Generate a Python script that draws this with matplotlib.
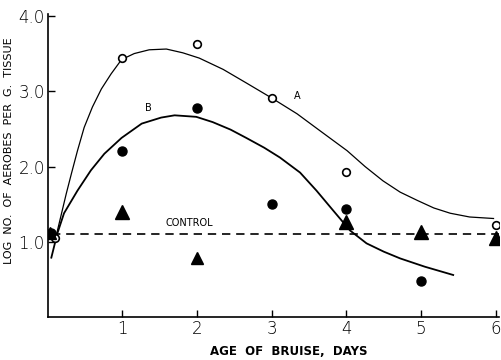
import matplotlib.pyplot as plt

# Curve A: open circles and hand-fitted curve
a_days = [0.1, 1, 2, 3, 4, 6]
a_log = [1.05, 3.44, 3.63, 2.91, 1.93, 1.22]
a_curve_x = [0.11, 0.18, 0.25, 0.32, 0.40, 0.49, 0.60, 0.72, 0.85, 0.99, 1.16,
             1.36, 1.59, 1.81, 2.03, 2.35, 2.66, 3.00, 3.34, 3.64, 4.01, 4.25,
             4.49, 4.72, 4.95, 5.17, 5.39, 5.65, 5.97]
a_curve_y = [1.06, 1.35, 1.64, 1.91, 2.21, 2.52, 2.79, 3.03, 3.23, 3.42, 3.50,
             3.55, 3.56, 3.51, 3.44, 3.29, 3.11, 2.91, 2.70, 2.48, 2.21, 2.00,
             1.81, 1.66, 1.55, 1.45, 1.38, 1.33, 1.31]

# Curve B: filled circles and hand-fitted curve
b_days = [0.05, 1, 2, 3, 4, 5]
b_log = [1.12, 2.21, 2.78, 1.50, 1.44, 0.48]
b_curve_x = [0.05, 0.13, 0.22, 0.40, 0.58, 0.76, 0.99, 1.26, 1.52, 1.70, 1.99,
             2.21, 2.45, 2.66, 2.90, 3.11, 3.38, 3.60, 3.82, 4.05, 4.27, 4.50,
             4.72, 5.05, 5.43]
b_curve_y = [0.79, 1.11, 1.38, 1.68, 1.95, 2.17, 2.38, 2.57, 2.65, 2.68, 2.66,
             2.59, 2.49, 2.38, 2.25, 2.12, 1.92, 1.68, 1.42, 1.15, 0.98, 0.87,
             0.78, 0.67, 0.56]

# Triangles (third series)
t_days = [0.03, 1, 2, 4, 5, 6]
t_log = [1.12, 1.40, 0.78, 1.27, 1.13, 1.05]
t_size = [8, 10, 8, 10, 10, 10]

control_level = 1.11

fig = plt.figure(figsize=(5.01, 3.6), dpi=100)
ax = fig.add_axes([0.095, 0.119, 0.902, 0.841])

ax.plot(a_curve_x, a_curve_y, color='black', lw=0.9)
ax.plot(b_curve_x, b_curve_y, color='black', lw=1.3)
ax.plot(a_days, a_log, 'o', mfc='white', mec='black', mew=1.2, ms=5.5)
ax.plot(b_days, b_log, 'o', color='black', ms=6.5)
for x, y, s in zip(t_days, t_log, t_size):
    ax.plot(x, y, '^', color='black', ms=s)

ax.axhline(control_level, xmin=0.01, xmax=1, color='black', lw=1.2, ls=(0, (5, 3.5)))
ax.text(1.9, 1.25, 'CONTROL', fontsize=7, ha='center', va='center')
ax.text(3.34, 2.93, 'A', fontsize=7, ha='center', va='center')
ax.text(1.35, 2.78, 'B', fontsize=7, ha='center', va='center')

ax.set_xlim(0, 6.05)
ax.set_ylim(0, 4.02)
ax.set_xticks([1, 2, 3, 4, 5, 6])
ax.set_yticks([1, 2, 3, 4])
ax.set_yticklabels(['1.0', '2.0', '3.0', '4.0'])
ax.tick_params(direction='in', length=5, width=1, labelsize=12, pad=2)
for lab in ax.get_xticklabels() + ax.get_yticklabels():
    lab.set_fontweight('light')
for side in ['top', 'right']:
    ax.spines[side].set_visible(False)
for side in ['left', 'bottom']:
    ax.spines[side].set_linewidth(1.2)

ax.set_xlabel('AGE  OF  BRUISE,  DAYS', fontsize=8.5, fontweight='bold')
ax.xaxis.label.set_va('center')
ax.xaxis.set_label_coords(0.534, -0.112)
ax.set_ylabel('LOG  NO.  OF  AEROBES  PER  G.  TISSUE', fontsize=8)
ax.yaxis.set_label_coords(-0.075, 0.55)

fig.savefig('out.png', dpi=100)
